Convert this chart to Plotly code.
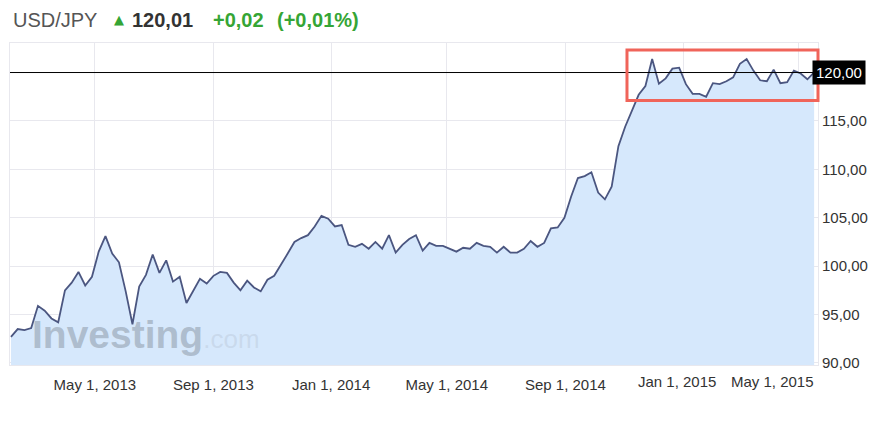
import pandas as pd
import plotly.graph_objects as go

# ---- data (weekly closes, USD/JPY) ----
start_date = "2013-02-03"
usd_jpy = [
    92.7, 93.5, 93.4, 93.6, 95.9, 95.4, 94.6, 94.2, 97.5, 98.3,
    99.4, 98.0, 98.9, 101.5, 103.1, 101.3, 100.4, 97.4, 94.0, 97.9,
    99.1, 101.2, 99.3, 100.6, 98.4, 98.9, 96.2, 97.5, 98.7, 98.2,
    99.0, 99.4, 99.3, 98.3, 97.5, 98.5, 97.8, 97.4, 98.6, 99.0,
    100.1, 101.3, 102.5, 102.9, 103.2, 104.1, 105.2, 104.9, 104.1, 104.25,
    102.2, 102.0, 102.3, 101.8, 102.5, 101.8, 103.2, 101.4, 102.2, 102.8,
    103.2, 101.6, 102.4, 102.1, 102.1, 101.8, 101.5, 101.9, 101.8, 102.4,
    102.1, 102.0, 101.4, 102.0, 101.4, 101.4, 101.8, 102.6, 102.0, 102.4,
    103.9, 104.0, 105.0, 107.2, 109.1, 109.3, 109.7, 107.6, 106.9, 108.2,
    112.4, 114.4, 116.1, 117.7, 118.6, 121.4, 118.85, 119.4, 120.4, 120.5,
    118.8, 117.8, 117.8, 117.5, 118.9, 118.8, 119.1, 119.5, 120.9, 121.4,
    120.2, 119.2, 119.1, 120.3, 118.9, 119.0, 120.2, 119.9, 119.3, 120.01,
]
dates = pd.date_range(start_date, periods=len(usd_jpy), freq="7D")

x_tick_dates = ["2013-05-01", "2013-09-01", "2014-01-01", "2014-05-01",
                "2014-09-01", "2015-01-01", "2015-05-01"]
x_tick_labels = ["May 1, 2013", "Sep 1, 2013", "Jan 1, 2014", "May 1, 2014",
                 "Sep 1, 2014", "Jan 1, 2015", "May 1, 2015"]
y_tick_values = [90, 95, 100, 105, 110, 115]
current_level = 120.0
last_price = "120,01"
change_abs = "+0,02"
change_pct = "(+0,01%)"
pair_name = "USD/JPY"

FONT = "Liberation Sans, Arial, sans-serif"
GREEN = "#35a535"

fig = go.Figure()
fig.add_trace(go.Scatter(
    x=dates, y=usd_jpy, mode="lines",
    line=dict(color="#4b5680", width=1.8),
    fill="tozeroy", fillcolor="#d6e8fc",
    hoverinfo="x+y", showlegend=False,
))

# first five tick labels via axis, last two shifted left (as in reference)
ticktext = x_tick_labels[:5] + ["", ""]

annotations = []
for d, lab, shift in [(x_tick_dates[5], x_tick_labels[5], -6),
                      (x_tick_dates[6], x_tick_labels[6], -26)]:
    annotations.append(dict(
        x=d, xref="x", y=0, yref="paper", yanchor="top", xanchor="center",
        yshift=-6, xshift=shift, text=lab, showarrow=False,
        font=dict(family=FONT, size=15, color="#333333"),
    ))

# current level box on the right axis
annotations.append(dict(
    x=1, xref="paper", y=current_level, yref="y", xanchor="left", yanchor="middle",
    xshift=-6, text=f"{current_level:.2f}".replace(".", ","), showarrow=False,
    font=dict(family=FONT, size=15, color="white"),
    bgcolor="black", borderpad=3,
))

# header
header_y = 1.072
annotations += [
    dict(x=0, xref="paper", y=header_y, yref="paper", xanchor="left", yanchor="middle",
         xshift=1, text=pair_name, showarrow=False,
         font=dict(family=FONT, size=20, color="#555555")),
    dict(x=0, xref="paper", y=header_y, yref="paper", xanchor="left", yanchor="middle",
         xshift=102, yshift=0, text="▲", showarrow=False,
         font=dict(family="DejaVu Sans", size=13, color=GREEN)),
    dict(x=0, xref="paper", y=header_y, yref="paper", xanchor="left", yanchor="middle",
         xshift=120, text=f"<b>{last_price}</b>", showarrow=False,
         font=dict(family=FONT, size=20, color="#333333")),
    dict(x=0, xref="paper", y=header_y, yref="paper", xanchor="left", yanchor="middle",
         xshift=201, text=f"<b>{change_abs}</b>", showarrow=False,
         font=dict(family=FONT, size=20, color=GREEN)),
    dict(x=0, xref="paper", y=header_y, yref="paper", xanchor="left", yanchor="middle",
         xshift=265, text=f"<b>{change_pct}</b>", showarrow=False,
         font=dict(family=FONT, size=20, color=GREEN)),
]

# watermark
annotations.append(dict(
    x=0.0248, xref="paper", y=0.0947, yref="paper", xanchor="left", yanchor="middle",
    text="<b>Investing</b><span style='font-size:26px;color:rgba(170,182,196,0.55)'>.com</span>",
    showarrow=False,
    font=dict(family=FONT, size=39, color="rgba(140,152,166,0.55)"),
))

shapes = [
    dict(type="line", xref="paper", x0=0, x1=1, yref="y", y0=current_level, y1=current_level,
         line=dict(color="black", width=1)),
    dict(type="rect", xref="paper", x0=0.7636, x1=1.0, yref="y", y0=117.1, y1=122.32,
         line=dict(color="#f0645a", width=3), fillcolor="rgba(0,0,0,0)"),
]

fig.update_layout(
    width=880, height=435,
    margin=dict(l=10, r=62, t=43, b=70),
    paper_bgcolor="white", plot_bgcolor="white",
    separators=", ",
    font=dict(family=FONT, color="#333333"),
    annotations=annotations, shapes=shapes,
    showlegend=False,
    xaxis=dict(
        type="date", range=["2013-02-02", "2015-05-21"],
        tickvals=x_tick_dates, ticktext=ticktext,
        showgrid=True, gridcolor="#e8e8ee", gridwidth=1,
        zeroline=False, ticks="", showline=True, linecolor="#e8e8ee", mirror=True,
        tickfont=dict(family=FONT, size=15, color="#333333"),
        ticklabelstandoff=6,
    ),
    yaxis=dict(
        side="right", range=[89.79, 123.05],
        tickvals=y_tick_values, tickformat=".2f",
        showgrid=True, gridcolor="#e8e8ee", gridwidth=1,
        zeroline=False, ticks="", showline=True, linecolor="#e8e8ee", mirror=True,
        tickfont=dict(family=FONT, size=15, color="#333333"),
        ticklabelstandoff=0,
    ),
)

fig.write_html("out.html",
               config={"displayModeBar": False},
               post_script="document.body.style.margin='0';document.body.style.overflow='hidden';")
